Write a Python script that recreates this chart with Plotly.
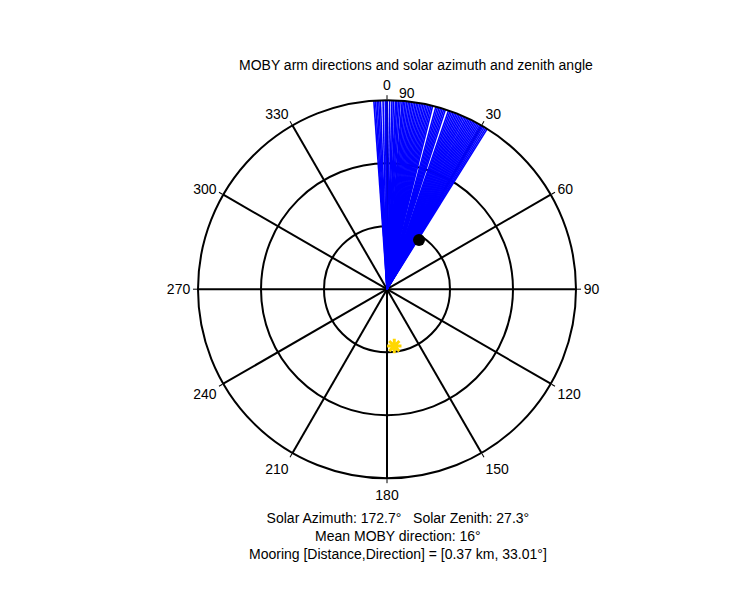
import plotly.graph_objects as go

# MOBY arm directions (deg, clockwise from north)
arm_dirs = [-4, -3.5, -3, -2.5, -2, -1.2, -0.5, 0, 0.8, 1.5, 2, 2.6, 3, 3.5, 4, 4.6, 5, 5.5,
            6, 6.5, 7, 7.5, 8, 8.5, 9, 9.5, 10, 10.5, 11, 11.5, 12, 12.5, 13, 13.5, 14,
            15, 15.5, 16, 16.5, 17, 17.5, 18, 19, 19.5, 20, 20.5, 21, 21.5, 22, 22.5,
            23, 23.5, 24, 24.5, 25, 25.5, 26, 26.5, 27, 27.5, 28, 28.5, 29, 29.5, 30,
            30.5, 31, 31.5, 32]
arm_len = 90
mooring_dir, mooring_r = 33.01, 28
sun_az, sun_zen = 172.7, 27.3
mean_dir = 16
ang_ticks = list(range(0, 360, 30))

r_vals, t_vals = [], []
for a in arm_dirs:
    r_vals += [0, arm_len, None]
    t_vals += [a, a, None]

fig = go.Figure()
fig.add_trace(go.Scatterpolar(r=r_vals, theta=t_vals, mode="lines",
                              line=dict(color="blue", width=1.6), hoverinfo="skip"))
fig.add_trace(go.Scatterpolar(r=[mooring_r], theta=[mooring_dir], mode="markers",
                              marker=dict(color="black", size=12)))
fig.add_trace(go.Scatterpolar(r=[sun_zen], theta=[sun_az], mode="markers",
                              marker=dict(color="#FFD700", size=12, symbol="asterisk-open",
                                          line=dict(color="#FFD700", width=3))))
fig.add_trace(go.Scatterpolar(r=[90], theta=[6], mode="text", text=["90"], cliponaxis=False,
                              textposition="top center",
                              textfont=dict(size=14, color="black")))

# page body has an 8px margin, so shift everything up/left by that
dx, dy = 8 / 750, 8 / 600
fig.update_layout(
    width=750, height=600, showlegend=False,
    paper_bgcolor="white", margin=dict(l=0, r=0, t=0, b=0),
    font=dict(family="Liberation Sans, Arial", size=14, color="black"),
    polar=dict(
        domain=dict(x=[0.264 - dx, 0.768 - dx], y=[0.203 + dy, 0.833 + dy]),
        bgcolor="white",
        angularaxis=dict(rotation=90, direction="clockwise",
                         tickvals=ang_ticks, ticktext=[str(t) for t in ang_ticks],
                         gridcolor="black", gridwidth=1.5, linecolor="black", linewidth=2,
                         ticks="outside", ticklen=4, tickcolor="black",
                         tickfont=dict(size=14)),
        radialaxis=dict(range=[0, 90], tickvals=[30, 60, 90], showticklabels=False,
                        gridcolor="black", gridwidth=1.5, showline=False, ticks=""),
    ),
    annotations=[
        dict(text="MOBY arm directions and solar azimuth and zenith angle",
             x=0.555 - dx, y=1 - 55 / 600 + dy,
             xref="paper", yref="paper", showarrow=False, font=dict(size=14)),
        dict(text=f"Solar Azimuth: {sun_az}°   Solar Zenith: {sun_zen}°<br>"
                  f"Mean MOBY direction: {mean_dir}°<br>"
                  f"Mooring [Distance,Direction] = [0.37 km, {mooring_dir}°]",
             x=0.53 - dx, y=1 - 508 / 600 + dy, xref="paper", yref="paper", yanchor="top",
             showarrow=False, font=dict(size=14)),
    ],
)
fig.write_html("out.html")
